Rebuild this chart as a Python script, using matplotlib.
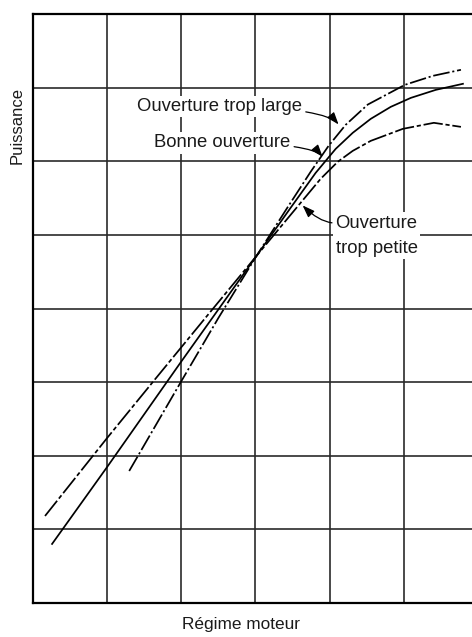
import matplotlib
matplotlib.use("Agg")
import matplotlib.pyplot as plt

plt.rcParams['font.family'] = ['Liberation Sans', 'DejaVu Sans']
plt.rcParams['lines.scale_dashes'] = False

# Data (grid units: x 0..6, y 0..8)
large_x = [1.297, 1.986, 2.500, 3.014, 3.419, 3.743, 3.986, 4.216, 4.514, 5.014, 5.392, 5.770]
large_y = [1.793, 2.989, 3.872, 4.715, 5.353, 5.856, 6.210, 6.495, 6.770, 7.038, 7.160, 7.242]

bonne_x = [0.257, 1.000, 1.986, 3.014, 3.473, 3.811, 4.081, 4.311, 4.554, 4.824, 5.095, 5.432, 5.797]
bonne_y = [0.802, 1.848, 3.261, 4.715, 5.367, 5.842, 6.168, 6.386, 6.576, 6.739, 6.861, 6.970, 7.052]

petite_x = [0.162, 1.000, 1.649, 2.324, 3.014, 3.608, 3.878, 4.108, 4.311, 4.554, 4.986, 5.405, 5.770]
petite_y = [1.182, 2.242, 3.043, 3.872, 4.715, 5.435, 5.761, 5.992, 6.141, 6.277, 6.440, 6.522, 6.467]

x_ticks = [0, 1, 2, 3, 4, 5, 6]
y_ticks = [0, 1, 2, 3, 4, 5, 6, 7, 8]

W, H = 472, 637
fig = plt.figure(figsize=(W / 100, H / 100), dpi=100)
ax = fig.add_axes([33 / W, (H - 603) / H, 445 / W, 589 / H])
ax.set_xlim(0, 6)
ax.set_ylim(0, 8)
ax.set_xticks(x_ticks)
ax.set_yticks(y_ticks)
ax.tick_params(length=0, labelbottom=False, labelleft=False)
ax.grid(True, color='#2a2a2a', lw=1.2)
ax.set_axisbelow(True)
for s in ax.spines.values():
    s.set_color('black')
    s.set_linewidth(1.6)

ax.plot(large_x, large_y, color='black', lw=1.25, ls=(0, (12, 2, 1.5, 2)),
        solid_joinstyle='round', dash_joinstyle='round', zorder=3)
ax.plot(bonne_x, bonne_y, color='black', lw=1.25, ls='-',
        solid_joinstyle='round', zorder=3)
ax.plot(petite_x, petite_y, color='black', lw=1.25, ls=(0, (14, 2, 3, 2)),
        dash_joinstyle='round', zorder=3)

tc = '#1a1a1a'
bbox = dict(boxstyle='square,pad=0.12', fc='white', ec='none')
arrow = dict(arrowstyle='-|>,head_length=0.55,head_width=0.2', color='black', lw=0.9,
             shrinkA=1, shrinkB=0)

ax.annotate('Ouverture trop large', xy=(4.12, 6.50), xytext=(1.405, 6.74),
            textcoords='data', ha='left', va='center', fontsize=13.3, color=tc,
            bbox=bbox, zorder=5,
            arrowprops=dict(arrow, connectionstyle='angle3,angleA=0,angleB=130'))

ax.annotate('Bonne ouverture', xy=(3.905, 6.06), xytext=(1.635, 6.25),
            textcoords='data', ha='left', va='center', fontsize=13.3, color=tc,
            bbox=bbox, zorder=5,
            arrowprops=dict(arrow, connectionstyle='angle3,angleA=0,angleB=130'))

ax.annotate('Ouverture\ntrop petite', xy=(3.635, 5.40), xytext=(4.08, 4.99),
            textcoords='data', ha='left', va='center', fontsize=13.3, color=tc,
            linespacing=1.6, bbox=bbox, zorder=5,
            arrowprops=dict(arrow, relpos=(0, 0.8),
                            connectionstyle='angle3,angleA=180,angleB=135'))

fig.text(17 / W, 1 - 125 / H, 'Puissance', rotation=90, ha='center', va='center',
         fontsize=12, color=tc)
fig.text(241 / W, 1 - 625 / H, 'Régime moteur', ha='center', va='center',
         fontsize=12.4, color=tc)

fig.savefig('out.png', dpi=100)
